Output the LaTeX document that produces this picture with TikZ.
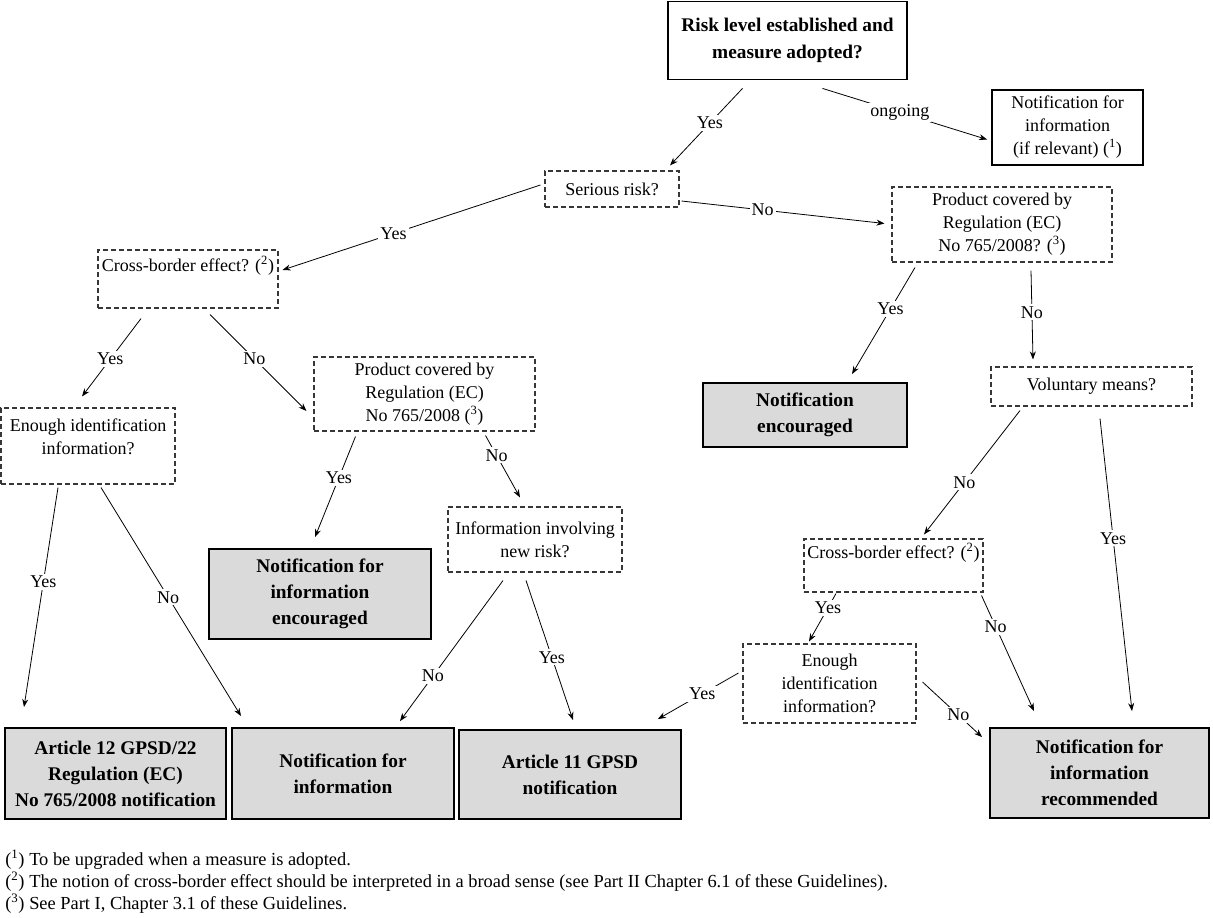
\documentclass[tikz,border=0pt]{standalone}
\usepackage{fontspec}
\setmainfont{Liberation Serif}
\usetikzlibrary{arrows.meta, calc}
\definecolor{boxgray}{RGB}{218,218,218}
\definecolor{dashgray}{RGB}{55,55,55}

\tikzset{
  question/.style={draw=dashgray, dash pattern=on 3.75pt off 2.25pt, line width=0.8pt, align=center, inner sep=2pt, font=\fontsize{13.5}{17.25}\selectfont},
  infobox/.style={draw, line width=1.4pt, align=center, inner sep=2pt, font=\fontsize{13.5}{17.25}\selectfont},
  topbox/.style={infobox, font=\bfseries\fontsize{14.5}{20}\selectfont},
  outcome/.style={draw, line width=1.4pt, fill=boxgray, align=center, inner sep=2pt, font=\bfseries\fontsize{14.5}{19.5}\selectfont},
  lab/.style={fill=white, inner sep=1.5pt, font=\fontsize{13.5}{16}\selectfont},
  conn/.style={-{Stealth[length=6pt,width=4.5pt]}, line width=0.6pt},
  note/.style={anchor=west, inner sep=0pt, font=\fontsize{13.8}{16}\selectfont},
}

\begin{document}
\begin{tikzpicture}[x=0.75pt, y=-0.75pt]
  \useasboundingbox (0,0) rectangle (1213,917);

  % decision boxes
  \node[topbox, minimum width=179.25pt, minimum height=58.5pt] (risk) at (787.5,40.5) {Risk level established and\\measure adopted?};
  \node[infobox, minimum width=113.25pt, minimum height=56.25pt] (ifrel) at (1067.5,127.5) {Notification for\\information\\(if relevant) (\textsuperscript{1})};
  \node[question, minimum width=100.5pt, minimum height=27pt] (serious) at (612,189) {Serious risk?};
  \node[question, minimum width=165pt, minimum height=56.25pt] (prodR) at (1002,224.5) {Product covered by\\Regulation (EC)\\No 765/2008? (\textsuperscript{3})};
  \node[question, minimum width=135pt, minimum height=43.5pt] (crossL) at (188,279) {Cross-border effect? (\textsuperscript{2})\\\strut};
  \node[question, minimum width=130.5pt, minimum height=57pt] (enoughL) at (88,446) {Enough identification\\information?\\[-9pt]\strut};
  \node[question, minimum width=165.75pt, minimum height=55.5pt] (prodL) at (424.5,394) {Product covered by\\Regulation (EC)\\No 765/2008 (\textsuperscript{3})};
  \node[question, minimum width=150.75pt, minimum height=29.25pt] (volun) at (1091.5,386.5) {Voluntary means?};
  \node[question, minimum width=130.5pt, minimum height=48.75pt] (newrisk) at (535,539.5) {Information involving\\new risk?};
  \node[question, minimum width=134.25pt, minimum height=39.75pt] (crossR) at (893.5,565.5) {Cross-border effect? (\textsuperscript{2})\\\strut};
  \node[question, minimum width=129.75pt, minimum height=59.25pt] (enoughR) at (829.5,683.5) {Enough\\identification\\information?};

  % outcomes
  \node[outcome, minimum width=153pt, minimum height=48pt] (notifenc) at (805,415) {Notification\\encouraged};
  \node[outcome, minimum width=166.5pt, minimum height=67.5pt] (infoenc) at (320,594) {Notification for\\information\\encouraged};
  \node[outcome, minimum width=165.75pt, minimum height=68.25pt] (art12) at (115.5,773.5) {Article 12 GPSD/22\\Regulation (EC)\\No 765/2008 notification};
  \node[outcome, minimum width=166.5pt, minimum height=68.25pt] (info) at (343,773.5) {Notification for\\information};
  \node[outcome, minimum width=166.5pt, minimum height=66.75pt] (art11) at (570,774.5) {Article 11 GPSD\\notification};
  \node[outcome, minimum width=164.25pt, minimum height=67.5pt] (recom) at (1099.5,773) {Notification for\\information\\recommended};

  % connectors
  \draw[conn] ($(risk.south)+(-45,8)$) -- node[lab, pos=0.45] {Yes} ($(serious.north)+(58,-5)$);
  \draw[conn] ($(risk.south)+(35,8)$) -- node[lab, pos=0.47] {ongoing} ($(ifrel.west)+(-4,12)$);
  \draw[conn] ($(serious.east)+(2,12)$) -- node[lab, pos=0.4] {No} ($(prodR.west)+(-7,-1)$);
  \draw[conn] ($(serious.west)+(-4,-4)$) -- node[lab, pos=0.57] {Yes} ($(crossL.east)+(4,-9)$);
  \draw[conn] ($(crossL.south)+(-47,10)$) -- node[lab, pos=0.52] {Yes} ($(enoughL.north)+(-6,-11)$);
  \draw[conn] ($(crossL.south)+(22,6)$) -- node[lab, pos=0.46] {No} ($(prodL.west)+(-7,17)$);
  \draw[conn] ($(enoughL.south)+(-30,3)$) -- node[lab, pos=0.43] {Yes} ($(art12.north)+(-91.5,-20)$);
  \draw[conn] ($(enoughL.south)+(13,3)$) -- node[lab, pos=0.48] {No} ($(info.north)+(-102,-11)$);
  \draw[conn] ($(prodL.south)+(-69,5)$) -- node[lab, pos=0.41] {Yes} ($(infoenc.north)+(-5,-11)$);
  \draw[conn] ($(prodL.south)+(61,4)$) -- node[lab, pos=0.32] {No} ($(newrisk.north)+(-15,-9)$);
  \draw[conn] ($(newrisk.south)+(-32,8)$) -- node[lab, pos=0.68] {No} ($(info.north)+(57,-6)$);
  \draw[conn] ($(newrisk.south)+(-9,8)$) -- node[lab, pos=0.55] {Yes} ($(art11.north)+(3,-9)$);
  \draw[conn] ($(prodR.south)+(-87,5)$) -- node[lab, pos=0.39] {Yes} ($(notifenc.north)+(47,-8)$);
  \draw[conn] ($(prodR.south)+(29,8)$) -- node[lab, pos=0.47] {No} ($(volun.north)+(-58.5,-7)$);
  \draw[conn] ($(volun.south)+(-71.5,4)$) -- node[lab, pos=0.58] {No} ($(crossR.north)+(30.5,-4)$);
  \draw[conn] ($(volun.south)+(8.5,12)$) -- node[lab, pos=0.41] {Yes} ($(recom.north)+(32.5,-16)$);
  \draw[conn] ($(crossR.south)+(-57.5,1)$) -- node[lab, pos=0.3] {Yes} ($(enoughR.north)+(-20.5,-2)$);
  \draw[conn] ($(crossR.south east)+(-2,3)$) -- node[lab, pos=0.27] {No} ($(recom.north)+(-65.5,-16)$);
  \draw[conn] ($(enoughR.west)+(-4,-10.5)$) -- node[lab, pos=0.45] {Yes} ($(art11.north east)+(-24,-10)$);
  \draw[conn] ($(enoughR.east)+(6,-1.5)$) -- node[lab, pos=0.6] {No} ($(recom.north west)+(-7,10)$);

  % footnotes
  \node[note] (fn1) at (5,860) {\makebox[18pt][l]{(\textsuperscript{1})}To be upgraded when a measure is adopted.};
  \node[note] (fn2) at (5,882) {\makebox[18pt][l]{(\textsuperscript{2})}The notion of cross-border effect should be interpreted in a broad sense (see Part II Chapter 6.1 of these Guidelines).};
  \node[note] (fn3) at (5,904) {\makebox[18pt][l]{(\textsuperscript{3})}See Part I, Chapter 3.1 of these Guidelines.};
\end{tikzpicture}
\end{document}
